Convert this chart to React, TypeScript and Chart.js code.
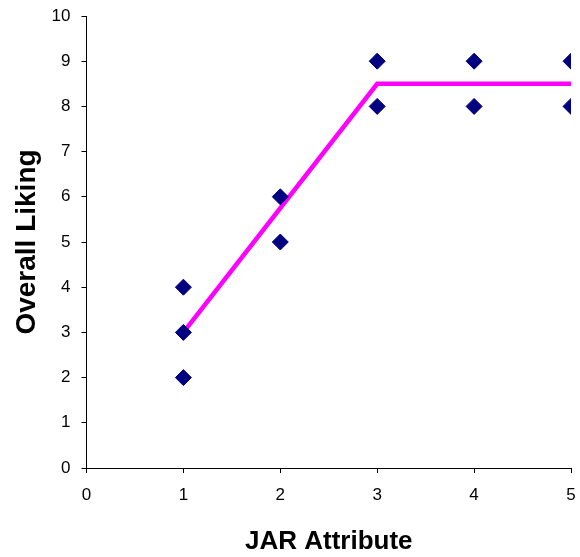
import React, { useEffect, useRef } from "react";
import { Chart, registerables } from "chart.js";

Chart.register(...registerables);

const pointX = [1, 1, 1, 2, 2, 3, 3, 4, 4, 5, 5];
const pointY = [2, 3, 4, 5, 6, 8, 9, 8, 9, 8, 9];
const lineX = [1, 3, 5];
const lineY = [3, 8.5, 8.5];
const xTitle = "JAR Attribute";
const yTitle = "Overall Liking";

export default function App() {
  const ref = useRef<HTMLCanvasElement | null>(null);

  useEffect(() => {
    if (!ref.current) return;
    const tickFont = { family: "'Liberation Sans', Arial, sans-serif", size: 17 };
    const titleFont = { family: "'Liberation Sans', Arial, sans-serif", weight: "bold" as const };
    const chart = new Chart(ref.current, {
      type: "scatter",
      data: {
        datasets: [
          {
            label: "Observed",
            data: pointX.map((x, i) => ({ x, y: pointY[i] })),
            pointStyle: "rectRot",
            pointRadius: 8,
            pointBackgroundColor: "#000080",
            pointBorderColor: "#000080",
            pointBorderWidth: 1,
            showLine: false,
            order: 0,
          },
          {
            label: "Fit",
            data: lineX.map((x, i) => ({ x, y: lineY[i] })),
            showLine: true,
            borderColor: "#FF00FF",
            borderWidth: 4.5,
            borderCapStyle: "round",
            borderJoinStyle: "miter",
            pointRadius: 0,
            order: 1,
          },
        ],
      },
      options: {
        animation: false,
        responsive: true,
        maintainAspectRatio: false,
        layout: { padding: { left: 0, top: 16, right: 8, bottom: 0 } },
        plugins: { legend: { display: false }, tooltip: { enabled: false } },
        scales: {
          x: {
            type: "linear",
            min: 0,
            max: 5,
            afterFit: (s: any) => {
              s.height = 89;
              s.paddingRight = 0;
              s.paddingLeft = 0;
            },
            ticks: { stepSize: 1, color: "#000", font: tickFont, padding: 12, maxRotation: 0 },
            grid: { drawOnChartArea: false, drawTicks: true, tickLength: 5, color: "#000" },
            border: { display: true, color: "#000", width: 1 },
            title: {
              display: true,
              text: xTitle,
              color: "#000",
              font: { ...titleFont, size: 26 },
              padding: { top: 0, bottom: 0 },
            },
          },
          y: {
            type: "linear",
            min: 0,
            max: 10,
            afterFit: (s: any) => {
              s.width = 86.5;
              s.paddingTop = 0;
              s.paddingBottom = 0;
            },
            ticks: { stepSize: 1, color: "#000", font: tickFont, padding: 11 },
            grid: { drawOnChartArea: false, drawTicks: true, tickLength: 5, color: "#000" },
            border: { display: true, color: "#000", width: 1 },
            title: {
              display: true,
              text: yTitle,
              color: "#000",
              font: { ...titleFont, size: 28 },
              padding: { top: 10, bottom: 0 },
            },
          },
        },
      },
    });
    return () => chart.destroy();
  }, []);

  return (
    <div style={{ position: "fixed", left: 0, top: 0, width: 580, height: 557 }}>
      <canvas ref={ref} />
    </div>
  );
}
